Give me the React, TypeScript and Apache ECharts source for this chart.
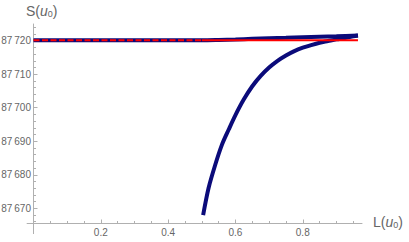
import React, { useEffect, useRef } from "react";
import * as echarts from "echarts";

const L_upper = [0, 0.5, 0.55, 0.6, 0.65, 0.7, 0.75, 0.8, 0.85, 0.9, 0.964];
const S_upper = [87720.1, 87720.1, 87720.2, 87720.35, 87720.55, 87720.75, 87720.9, 87721.05, 87721.2, 87721.35, 87721.55];

const L_lower = [0.504, 0.52, 0.54, 0.56, 0.58, 0.6, 0.625, 0.65, 0.675, 0.7, 0.725, 0.75, 0.775, 0.8, 0.825, 0.85, 0.875, 0.9, 0.925, 0.95, 0.964];
const S_lower = [87668.0, 87676.0, 87683.0, 87689.0, 87693.5, 87697.8, 87702.5, 87706.4, 87709.5, 87712.0, 87714.0, 87715.6, 87716.9, 87717.9, 87718.7, 87719.4, 87719.9, 87720.4, 87720.8, 87721.3, 87721.55];

const L_redDashed = [0, 0.5];
const S_redDashed = [87720.1, 87720.1];
const L_redSolid = [0.5, 0.964];
const S_redSolid = [87720.1, 87720.1];

const yMajor = [87670, 87680, 87690, 87700, 87710, 87720];
const yMinor = [87666, 87668, 87672, 87674, 87676, 87678, 87682, 87684, 87686, 87688, 87692, 87694, 87696, 87698, 87702, 87704, 87706, 87708, 87712, 87714, 87716, 87718, 87722, 87724];
const xMajor = [0.2, 0.4, 0.6, 0.8];
const xMinor = [0.05, 0.1, 0.15, 0.25, 0.3, 0.35, 0.45, 0.5, 0.55, 0.65, 0.7, 0.75, 0.85, 0.9, 0.95];

const Y_MIN = 87665.47;
const Y_MAX = 87724.98;
const X_MIN = 0;
const X_MAX = 0.976;

const zip = (a: number[], b: number[]) => a.map((v, i) => [v, b[i]]);

const AXIS = "#b0b0b0";
const LABEL = "#666666";
const FONT = "Liberation Sans";

export default function App() {
  const ref = useRef<HTMLDivElement>(null);
  useEffect(() => {
    if (!ref.current) return;
    const chart = echarts.init(ref.current, undefined, { renderer: "svg" });
    const fmtY = (v: number) => {
      const s = String(Math.round(v));
      return s.slice(0, 2) + "\u2009" + s.slice(2);
    };
    const rich = {
      n: { fontSize: 14, fontFamily: FONT, color: LABEL },
      i: { fontSize: 14, fontFamily: FONT, fontStyle: "italic", color: LABEL },
      s: { fontSize: 9, fontFamily: FONT, color: LABEL, verticalAlign: "bottom" },
    };
    chart.setOption({
      animation: false,
      backgroundColor: "#ffffff",
      grid: { left: 33.5, right: 47, top: 24, bottom: 18.5, containLabel: false, outerBoundsMode: "none" },
      xAxis: [
        {
          type: "value",
          min: X_MIN,
          max: X_MAX,
          axisLine: { show: true, lineStyle: { color: AXIS, width: 1 } },
          axisTick: { show: true, inside: true, length: 4, customValues: xMajor, lineStyle: { color: AXIS } },
          axisLabel: {
            show: true,
            customValues: xMajor,
            margin: 4,
            color: LABEL,
            fontSize: 10,
            fontFamily: FONT,
            formatter: (v: number) => v.toFixed(1),
          },
          splitLine: { show: false },
        },
        {
          type: "value",
          position: "bottom",
          min: X_MIN,
          max: X_MAX,
          axisLine: { show: false },
          axisTick: { show: true, inside: true, length: 2.5, customValues: xMinor, lineStyle: { color: AXIS } },
          axisLabel: { show: false },
          splitLine: { show: false },
        },
      ],
      yAxis: [
        {
          type: "value",
          min: Y_MIN,
          max: Y_MAX,
          axisLine: { show: true, lineStyle: { color: AXIS, width: 1 } },
          axisTick: { show: true, inside: true, length: 4, customValues: yMajor, lineStyle: { color: AXIS } },
          axisLabel: {
            show: true,
            customValues: yMajor,
            margin: 2.5,
            color: LABEL,
            fontSize: 10,
            fontFamily: FONT,
            formatter: fmtY,
          },
          splitLine: { show: false },
        },
        {
          type: "value",
          position: "left",
          min: Y_MIN,
          max: Y_MAX,
          axisLine: { show: false },
          axisTick: { show: true, inside: true, length: 2.5, customValues: yMinor, lineStyle: { color: AXIS } },
          axisLabel: { show: false },
          splitLine: { show: false },
        },
      ],
      graphic: [
        { type: "line", shape: { x1: 26.7, y1: 223.5, x2: 33.5, y2: 223.5 }, style: { stroke: AXIS, lineWidth: 1 } },
        { type: "line", shape: { x1: 33.5, y1: 223.5, x2: 33.5, y2: 234 }, style: { stroke: AXIS, lineWidth: 1 } },
        {
          type: "text",
          left: 26,
          top: 4,
          style: { text: "{n|S(}{i|u}{s|0}{n|)}", rich, fill: LABEL, fontSize: 14, fontFamily: FONT },
        },
        {
          type: "text",
          left: 373,
          top: 215,
          style: { text: "{n|L(}{i|u}{s|0}{n|)}", rich, fill: LABEL, fontSize: 14, fontFamily: FONT },
        },
      ],
      series: [
        {
          type: "line",
          data: zip(L_upper, S_upper),
          showSymbol: false,
          smooth: 0.3,
          lineStyle: { color: "#0b0b7a", width: 4 },
          z: 2,
        },
        {
          type: "line",
          data: zip(L_lower, S_lower),
          showSymbol: false,
          smooth: 0.3,
          lineStyle: { color: "#0b0b7a", width: 4 },
          z: 2,
        },
        {
          type: "line",
          data: zip(L_redDashed, S_redDashed),
          showSymbol: false,
          lineStyle: { color: "#ff0000", width: 2, type: [6, 2.5] },
          z: 3,
        },
        {
          type: "line",
          data: zip(L_redSolid, S_redSolid),
          showSymbol: false,
          lineStyle: { color: "#ff0000", width: 2 },
          z: 3,
        },
      ],
    });
    return () => chart.dispose();
  }, []);
  return (
    <div style={{ position: "fixed", left: 0, top: 0, width: 409, height: 242 }}>
      <div ref={ref} style={{ width: 409, height: 242 }} />
    </div>
  );
}
